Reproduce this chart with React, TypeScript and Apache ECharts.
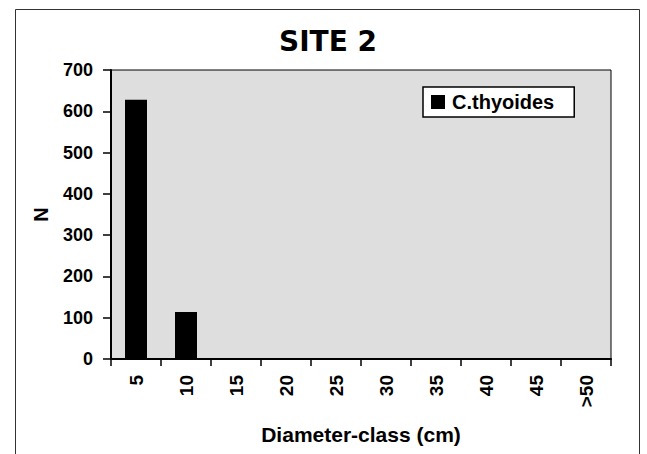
import React, { useEffect, useRef } from "react";
import * as echarts from "echarts";

const categories = ["5", "10", "15", "20", "25", "30", "35", "40", "45", ">50"];
const seriesName = "C.thyoides";
const values = [628, 114, 0, 0, 0, 0, 0, 0, 0, 0];
const yTicks = [0, 100, 200, 300, 400, 500, 600, 700];

const LIB = "'Liberation Sans', Arial, sans-serif";
const DJV = "'DejaVu Sans', sans-serif";

export default function App() {
  const ref = useRef<HTMLDivElement>(null);
  useEffect(() => {
    if (!ref.current) return;
    const chart = echarts.init(ref.current, undefined, { renderer: "svg" });
    chart.setOption({
      animation: false,
      backgroundColor: "#ffffff",
      textStyle: { fontFamily: LIB },
      title: {
        text: "SITE 2",
        left: 279,
        top: 27,
        padding: 0,
        textStyle: { fontFamily: DJV, fontWeight: "bold", fontSize: 28, color: "#000" },
      },
      graphic: [
        {
          type: "rect",
          left: 13,
          top: 7,
          shape: { x: 0, y: 0, width: 624, height: 470 },
          style: { fill: "none", stroke: "#333", lineWidth: 1 },
          silent: true,
        },
      ],
      legend: {
        data: [seriesName],
        left: 423,
        top: 87,
        orient: "vertical",
        icon: "rect",
        itemWidth: 14,
        itemHeight: 14,
        padding: [5, 20, 5, 8],
        backgroundColor: "#ffffff",
        borderColor: "#000",
        borderWidth: 1.5,
        textStyle: {
          fontFamily: LIB,
          fontWeight: "bold",
          fontSize: 20,
          lineHeight: 20,
          color: "#000",
          padding: [0, 0, 0, 2],
        },
      },
      grid: {
        left: 111,
        top: 70,
        right: 36,
        bottom: 95,
        show: true,
        backgroundColor: "#dedede",
        borderColor: "#000",
        borderWidth: 1,
        containLabel: false,
        outerBoundsMode: "none",
      },
      xAxis: {
        type: "category",
        data: categories,
        name: "Diameter-class (cm)",
        nameLocation: "middle",
        nameGap: 65,
        nameMoveOverlap: false,
        nameTextStyle: { fontFamily: LIB, fontWeight: "bold", fontSize: 21, color: "#000" },
        axisLine: { show: true, lineStyle: { color: "#000", width: 2 } },
        axisTick: { show: true, length: 7, lineStyle: { color: "#000", width: 1.5 } },
        axisLabel: {
          rotate: 90,
          margin: 16,
          fontFamily: LIB,
          fontWeight: "bold",
          fontSize: 19,
          color: "#000",
        },
        splitLine: { show: false },
      },
      yAxis: {
        type: "value",
        min: 0,
        max: 700,
        interval: 100,
        name: "N",
        nameLocation: "middle",
        nameGap: 60,
        nameRotate: 90,
        nameMoveOverlap: false,
        nameTextStyle: { fontFamily: LIB, fontWeight: "bold", fontSize: 20, color: "#000" },
        axisLine: { show: true, lineStyle: { color: "#000", width: 2 } },
        axisTick: { show: true, length: 8, lineStyle: { color: "#000", width: 1.5 } },
        axisLabel: {
          margin: 18,
          fontFamily: LIB,
          fontWeight: "bold",
          fontSize: 18,
          color: "#000",
          formatter: (v: number) => (yTicks.includes(v) ? String(v) : ""),
        },
        splitLine: { show: false },
      },
      series: [
        {
          name: seriesName,
          type: "bar",
          data: values,
          barWidth: "44%",
          itemStyle: { color: "#000000" },
        },
      ],
    });
    return () => chart.dispose();
  }, []);
  return (
    <div
      ref={ref}
      style={{ position: "absolute", left: 0, top: 0, width: 647, height: 454 }}
    />
  );
}
